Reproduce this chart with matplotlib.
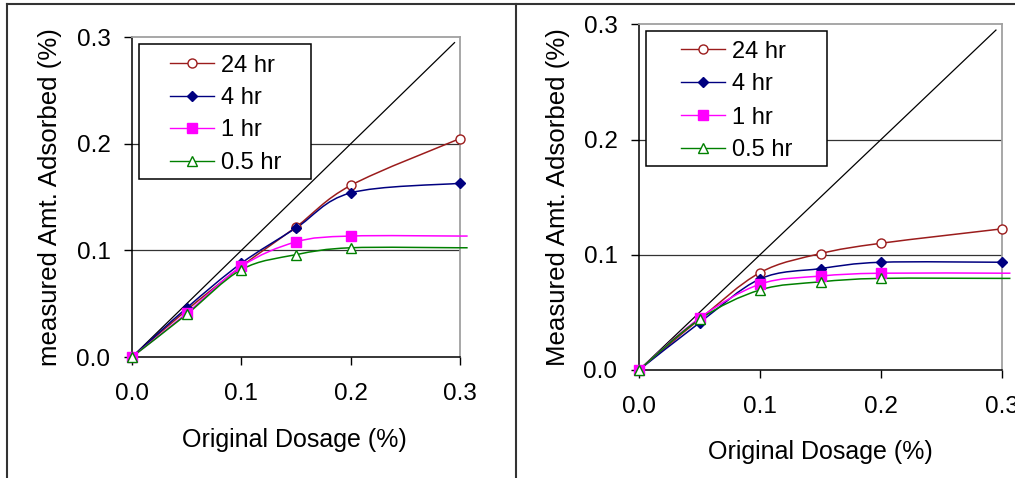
import matplotlib

matplotlib.use("Agg")
import matplotlib.pyplot as plt  # noqa: E402
from matplotlib.lines import Line2D  # noqa: E402
from matplotlib.patches import PathPatch, Rectangle  # noqa: E402
from matplotlib.path import Path  # noqa: E402

W, H = 1015, 478

DOSE = [0.0, 0.05, 0.1, 0.15, 0.2, 0.3]
SERIES = ["24 hr", "4 hr", "1 hr", "0.5 hr"]

LEFT_24 = [0.0, 0.044, 0.085, 0.122, 0.161, 0.205]
LEFT_4 = [0.0, 0.046, 0.088, 0.121, 0.154, 0.163]
LEFT_1 = [0.0, 0.041, 0.085, 0.108, 0.1135, 0.1135]
LEFT_05 = [0.0, 0.040, 0.082, 0.096, 0.1025, 0.1025]

RIGHT_24 = [0.0, 0.044, 0.0845, 0.101, 0.110, 0.1225]
RIGHT_4 = [0.0, 0.041, 0.079, 0.088, 0.0935, 0.0935]
RIGHT_1 = [0.0, 0.045, 0.0745, 0.0815, 0.084, 0.084]
RIGHT_05 = [0.0, 0.044, 0.0695, 0.0765, 0.0795, 0.0795]

# points that carry a marker (1 hr and 0.5 hr show none at 0.3)
MARKED = [6, 6, 5, 5]

UNITY = [0.0, 0.295]
TICKS = [0.0, 0.1, 0.2, 0.3]

STYLE = [
    dict(color="#9b1c1c", marker="o", mfc="white", ms=6.5),
    dict(color="#000080", marker="D", mfc="#000080", ms=5.5),
    dict(color="#ff00ff", marker="s", mfc="#ff00ff", ms=7),
    dict(color="#008000", marker="^", mfc="white", ms=7.5),
]
TAIL = 0.007  # flat lines run a little past the plot edge, as in the source

plt.rcParams.update({"font.family": ["Liberation Sans", "DejaVu Sans"]})


def smooth_path(xs, ys, tail=False):
    # Excel-style smoothed line: cubic Bezier through the points
    pts = list(zip(xs, ys))
    n = len(pts)
    verts, codes = [pts[0]], [Path.MOVETO]
    for i in range(n - 1):
        p0, p1 = pts[max(i - 1, 0)], pts[i]
        p2, p3 = pts[i + 1], pts[min(i + 2, n - 1)]
        c1 = (p1[0] + (p2[0] - p0[0]) / 6, p1[1] + (p2[1] - p0[1]) / 6)
        c2 = (p2[0] - (p3[0] - p1[0]) / 6, p2[1] - (p3[1] - p1[1]) / 6)
        verts += [c1, c2, p2]
        codes += [Path.CURVE4] * 3
    if tail:
        verts.append((pts[-1][0] + TAIL, pts[-1][1]))
        codes.append(Path.LINETO)
    return Path(verts, codes)


def fx(x):
    return x / W


def fy(y):
    return 1 - y / H


def panel(rect, series, ylabel, ylab_xy, xlab_xy, box, line_x, text_x, rows):
    ax = fig.add_axes(rect)
    ax.set_xlim(0, 0.3)
    ax.set_ylim(0, 0.3)
    for y in TICKS[1:-1]:
        ax.axhline(y, color="#333333", lw=0.9, zorder=1)
    ax.plot(UNITY, UNITY, color="black", lw=0.9, zorder=2)
    for vals, st, nm in zip(series, STYLE, MARKED):
        ax.add_patch(PathPatch(smooth_path(DOSE, vals, tail=nm < len(DOSE)),
                               fc="none", ec=st["color"], lw=1.1, zorder=3,
                               clip_on=False))
        ax.plot(DOSE[:nm], vals[:nm], ls="none", marker=st["marker"],
                ms=st["ms"], mfc=st["mfc"], mec=st["color"], mew=1.0,
                zorder=4, clip_on=False)
    ax.set_xticks(TICKS)
    ax.set_yticks(TICKS)
    ax.set_xticklabels([f"{t:.1f}" for t in TICKS])
    ax.set_yticklabels([f"{t:.1f}" for t in TICKS])
    ax.tick_params(direction="out", length=6, width=1, labelsize=17.5,
                   top=False, right=False)
    ax.tick_params(axis="x", pad=12.8)
    ax.tick_params(axis="y", pad=9.5)
    for side in ("left", "bottom"):
        ax.spines[side].set_color("black")
        ax.spines[side].set_linewidth(1.1)
    for side in ("top", "right"):
        ax.spines[side].set_color("#a0a0a0")
        ax.spines[side].set_linewidth(1.3)

    fig.text(fx(ylab_xy[0]), fy(ylab_xy[1]), ylabel, rotation=90,
             ha="center", va="center", fontsize=18.6)
    fig.text(fx(xlab_xy[0]), fy(xlab_xy[1]), "Original Dosage (%)",
             ha="center", va="baseline", fontsize=18)

    x0, y0, x1, y1 = box
    fig.add_artist(Rectangle((fx(x0), fy(y1)), (x1 - x0) / W, (y1 - y0) / H,
                             fc="white", ec="black", lw=1.1, zorder=5))
    mid = (line_x[0] + line_x[1]) / 2
    for name, st, y in zip(SERIES, STYLE, rows):
        fig.add_artist(Line2D([fx(line_x[0]), fx(line_x[1])], [fy(y), fy(y)],
                              color=st["color"], lw=1.0, zorder=6))
        fig.add_artist(Line2D([fx(mid)], [fy(y)], ls="none", marker=st["marker"],
                              ms=st["ms"], mfc=st["mfc"], mec=st["color"],
                              mew=1.0, zorder=7))
        fig.text(fx(text_x), fy(y), name, ha="left", va="center_baseline",
                 fontsize=17, zorder=8)
    return ax


fig = plt.figure(figsize=(W / 100, H / 100), dpi=100)

panel([fx(132), fy(357), 328 / W, (357 - 37.3) / H],
      [LEFT_24, LEFT_4, LEFT_1, LEFT_05], "measured Amt. Adsorbed (%)",
      (50, 197), (294, 447), (139, 44, 311, 179), (170, 214), 221,
      [63, 95.5, 127.5, 160.5])

panel([fx(639), fy(370), 363 / W, (370 - 24.3) / H],
      [RIGHT_24, RIGHT_4, RIGHT_1, RIGHT_05], "Measured Amt. Adsorbed (%)",
      (558, 197), (820, 459), (646, 31, 827, 166), (681, 725), 732,
      [49, 81.5, 115, 147.5])

# outer chart frames
for xs, ys in (([7, W], [4, 4]), ([7, 7], [4, H]), ([516, 516], [4, H])):
    fig.add_artist(Line2D([fx(v) for v in xs], [fy(v) for v in ys],
                          color="#333333", lw=1.5))

fig.savefig("out.png", dpi=100, facecolor="white")
